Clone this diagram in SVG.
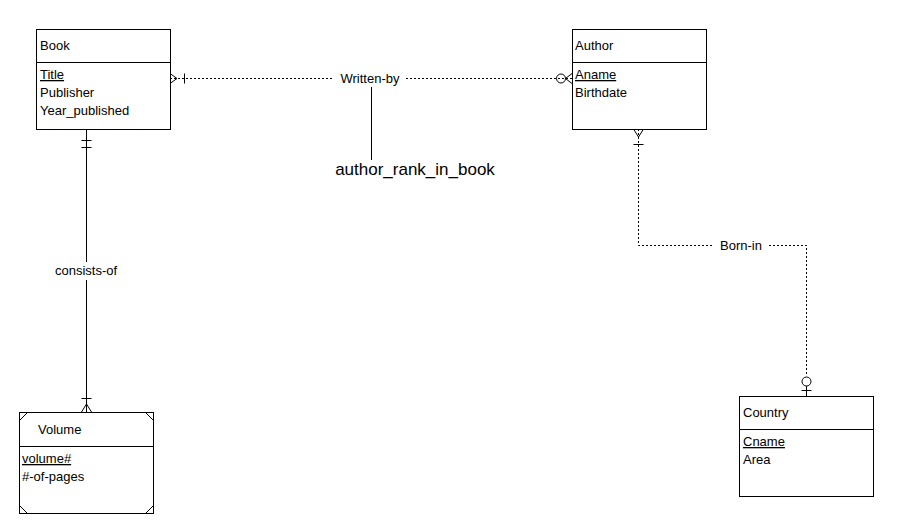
<svg xmlns="http://www.w3.org/2000/svg" width="904" height="528" viewBox="0 0 904 528">
<style>
.box{fill:#fff;stroke:#000;stroke-width:1}
.t{font-family:"Liberation Sans",Arial,sans-serif;font-size:13px;fill:#000}
.c{stroke:#000;stroke-width:1;fill:none}
.d{stroke-dasharray:2,2}
.lbl{font-family:"Liberation Sans",Arial,sans-serif;font-size:13px;fill:#000;text-anchor:middle}
</style>
<rect width="904" height="528" fill="#fff"/>
<g id="connectors">
<line class="c d" x1="170" y1="78.5" x2="334" y2="78.5"/>
<line class="c d" x1="406" y1="78.5" x2="572" y2="78.5"/>
<path class="c" d="M170,73.5 L177,78.5 L170,83.5 M184.5,73.5 V83.5"/>
<circle class="c" cx="561" cy="78.5" r="4.5"/>
<path class="c" d="M572,73.5 L565.5,78.5 L572,83.5"/>
<line class="c" x1="371.5" y1="87" x2="371.5" y2="160"/>
<rect x="334" y="70" width="72" height="16" fill="#fff"/>
<text class="lbl" x="370" y="83">Written-by</text>
<text class="lbl" x="415" y="175" style="font-size:17px">author_rank_in_book</text>
<line class="c" x1="86.5" y1="129" x2="86.5" y2="262"/>
<line class="c" x1="86.5" y1="280" x2="86.5" y2="412"/>
<path class="c" d="M81.5,140.5 H91.5 M81.5,147.5 H91.5 M81.5,398.5 H91.5 M81.5,412 L86.5,404 L91.5,412"/>
<text class="lbl" x="86" y="275">consists-of</text>
<path class="c d" d="M638.5,129 V245.5 H713 M769,245.5 H806.5 V376"/>
<path class="c" d="M633.5,129 L638.5,137 L643.5,129 M633.5,144.5 H643.5 M801.5,390.5 H811.5 M806.5,386 V396"/>
<circle class="c" cx="806.5" cy="381.5" r="4.5"/>
<text class="lbl" x="741" y="250">Born-in</text>
</g>
<g id="book">
<rect class="box" x="36.5" y="29.5" width="134" height="100"/>
<line class="c" x1="36.5" y1="62.5" x2="170.5" y2="62.5"/>
<text class="t" x="40" y="50">Book</text>
<text class="t" x="40" y="79" text-decoration="underline">Title</text>
<text class="t" x="40" y="97">Publisher</text>
<text class="t" x="40" y="115">Year_published</text>
</g>
<g id="author">
<rect class="box" x="572.5" y="29.5" width="134" height="100"/>
<line class="c" x1="572.5" y1="62.5" x2="706.5" y2="62.5"/>
<text class="t" x="575" y="50">Author</text>
<text class="t" x="575" y="79" text-decoration="underline">Aname</text>
<text class="t" x="575" y="97">Birthdate</text>
</g>
<g id="volume">
<rect class="box" x="19.5" y="412.5" width="134" height="101"/>
<line class="c" x1="19.5" y1="446.5" x2="153.5" y2="446.5"/>
<path class="c" d="M19.5,420.5 L27.5,412.5 M145.5,412.5 L153.5,420.5 M19.5,505.5 L27.5,513.5 M145.5,513.5 L153.5,505.5"/>
<text class="t" x="38" y="434">Volume</text>
<text class="t" x="22" y="463" text-decoration="underline">volume#</text>
<text class="t" x="22" y="481">#-of-pages</text>
</g>
<g id="country">
<rect class="box" x="739.5" y="396.5" width="134" height="100"/>
<line class="c" x1="739.5" y1="429.5" x2="873.5" y2="429.5"/>
<text class="t" x="743" y="417">Country</text>
<text class="t" x="743" y="446" text-decoration="underline">Cname</text>
<text class="t" x="743" y="464">Area</text>
</g>
</svg>
